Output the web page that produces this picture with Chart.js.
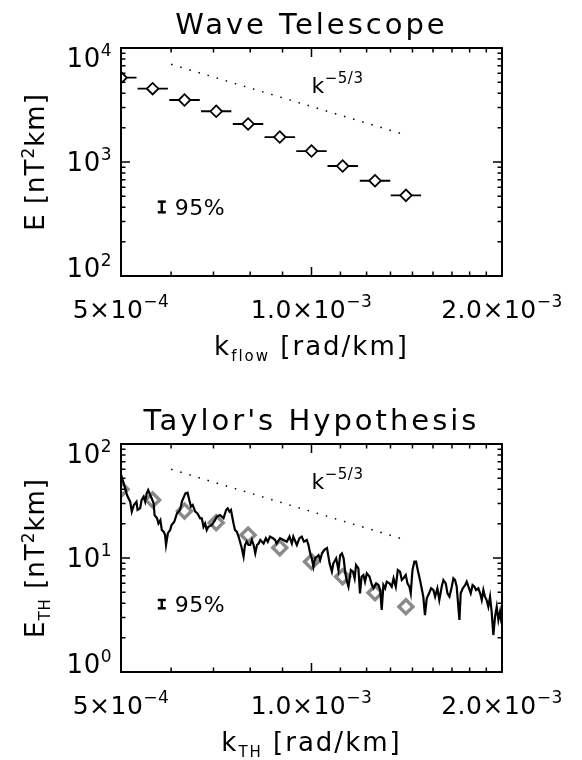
<!DOCTYPE html>
<html><head><meta charset="utf-8">
<script src="https://cdn.jsdelivr.net/npm/chart.js@4/dist/chart.umd.min.js"></script>
<style>
html,body{margin:0;padding:0;background:#fff;}
#wrap{position:relative;width:582px;height:760px;overflow:hidden;}
canvas{position:absolute;left:0;}
</style></head><body>
<div id="wrap">
<canvas id="c1" width="582" height="380" style="top:0"></canvas>
<canvas id="c2" width="582" height="380" style="top:380px"></canvas>
</div>
<script>
// ---------------- data ----------------
// Wave telescope spectrum (bins in k_flow, rad/km)
const kBins    = [5.00e-4, 5.61e-4, 6.30e-4, 7.07e-4, 7.94e-4, 8.91e-4, 1.00e-3, 1.12e-3, 1.26e-3, 1.41e-3];
const kBinLow  = [4.73e-4, 5.31e-4, 5.96e-4, 6.69e-4, 7.51e-4, 8.43e-4, 9.46e-4, 1.060e-3, 1.192e-3, 1.334e-3];
const kBinHigh = [5.29e-4, 5.93e-4, 6.66e-4, 7.47e-4, 8.39e-4, 9.42e-4, 1.057e-3, 1.184e-3, 1.332e-3, 1.490e-3];
const energyWT = [5490, 4395, 3499, 2786, 2155, 1656, 1248, 922, 685, 510];
// same bins, values shown in the Taylor's-hypothesis panel (grey diamonds)
const energyWTinTH = [40.1, 32.3, 25.8, 20.4, 15.9, 12.3, 9.28, 6.85, 4.96, 3.74];
// Taylor's hypothesis spectrum (k_TH, rad/km)
const kTH = [5.00e-4,5.06e-4,5.11e-4,5.17e-4,5.20e-4,5.24e-4,5.29e-4,5.31e-4,5.36e-4,5.39e-4,
5.43e-4,5.46e-4,5.49e-4,5.52e-4,5.56e-4,5.59e-4,5.63e-4,5.65e-4,5.70e-4,5.73e-4,
5.77e-4,5.80e-4,5.84e-4,5.87e-4,5.89e-4,5.93e-4,5.98e-4,6.01e-4,6.07e-4,6.13e-4,
6.20e-4,6.24e-4,6.32e-4,6.37e-4,6.41e-4,6.45e-4,6.49e-4,6.55e-4,6.60e-4,6.67e-4,
6.71e-4,6.75e-4,6.79e-4,6.83e-4,6.87e-4,6.96e-4,7.04e-4,7.08e-4,7.17e-4,7.26e-4,
7.33e-4,7.37e-4,7.42e-4,7.46e-4,7.53e-4,7.57e-4,7.62e-4,7.67e-4,7.71e-4,7.76e-4,
7.81e-4,7.85e-4,7.90e-4,7.95e-4,8.00e-4,8.05e-4,8.10e-4,8.15e-4,8.20e-4,8.25e-4,
8.30e-4,8.40e-4,8.47e-4,8.53e-4,8.60e-4,8.69e-4,8.76e-4,8.81e-4,8.92e-4,9.03e-4,
9.14e-4,9.23e-4,9.31e-4,9.36e-4,9.48e-4,9.57e-4,9.65e-4,9.73e-4,9.83e-4,9.89e-4,
9.95e-4,1.001e-3,1.007e-3,1.013e-3,1.026e-3,1.032e-3,1.039e-3,1.048e-3,1.058e-3,1.068e-3,
1.077e-3,1.083e-3,1.094e-3,1.103e-3,1.110e-3,1.117e-3,1.124e-3,1.131e-3,1.138e-3,1.144e-3,
1.154e-3,1.163e-3,1.170e-3,1.176e-3,1.186e-3,1.193e-3,1.200e-3,1.208e-3,1.215e-3,1.223e-3,
1.235e-3,1.246e-3,1.253e-3,1.265e-3,1.276e-3,1.284e-3,1.291e-3,1.299e-3,1.307e-3,1.315e-3,
1.328e-3,1.339e-3,1.348e-3,1.359e-3,1.369e-3,1.380e-3,1.389e-3,1.397e-3,1.409e-3,1.418e-3,
1.428e-3,1.435e-3,1.444e-3,1.454e-3,1.463e-3,1.472e-3,1.484e-3,1.493e-3,1.502e-3,1.511e-3,
1.521e-3,1.534e-3,1.545e-3,1.558e-3,1.568e-3,1.581e-3,1.592e-3,1.606e-3,1.616e-3,1.630e-3,
1.640e-3,1.652e-3,1.666e-3,1.676e-3,1.686e-3,1.696e-3,1.713e-3,1.721e-3,1.734e-3,1.749e-3,
1.759e-3,1.770e-3,1.785e-3,1.797e-3,1.809e-3,1.820e-3,1.835e-3,1.847e-3,1.858e-3,1.869e-3,
1.880e-3,1.891e-3,1.903e-3,1.915e-3,1.926e-3,1.938e-3,1.950e-3,1.962e-3,1.974e-3,1.986e-3,
1.997e-3];
const energyTH = [54,43.7,35.7,31.2,25.5,29.2,31.2,26.4,27.3,32.3,
34.5,31.2,36.9,39.5,35.7,33.4,30.2,23.8,22.3,20.1,
21.5,17.6,17.0,15.9,13.0,16.5,17.6,19.5,20.8,24.7,
26.4,31.2,36.9,37.4,32.3,28.2,29.2,25.5,24.7,22.3,
22.3,18.8,20.1,17.6,18.8,19.5,21.5,23.0,23.8,22.3,
26.4,27.3,25.5,26.4,20.1,17.6,17.0,15.4,13.9,12.2,
10.3,13.0,13.9,13.0,13.0,14.4,13.0,11.0,13.0,13.4,
14.4,13.4,14.9,13.9,15.4,14.9,14.4,13.4,14.9,14.4,
13.9,15.4,13.4,15.4,13.0,14.9,15.4,13.9,14.4,13.0,
11.0,9.93,8.39,9.93,10.6,9.60,11.0,11.8,12.2,8.98,
7.59,8.98,9.93,7.85,10.6,11.0,9.93,7.34,6.20,5.60,
7.85,7.59,6.63,8.68,8.11,4.90,6.86,7.09,6.20,7.34,
6.86,5.79,5.42,5.99,5.79,5.24,3.50,5.79,5.42,6.20,
5.99,5.60,6.63,5.60,7.85,7.59,6.41,6.63,7.09,5.99,
5.60,4.90,7.85,9.28,9.28,7.85,6.41,5.42,4.58,3.16,
4.43,4.90,5.42,5.24,4.58,5.42,4.28,5.60,6.41,5.99,
4.90,4.58,5.60,6.63,6.41,5.60,2.86,4.90,5.42,5.79,
6.20,5.60,4.90,5.79,5.60,5.24,5.42,4.90,4.28,5.24,
4.58,4.28,3.74,4.58,3.38,2.11,3.06,3.74,2.86,3.38,
2.67];
// k^-5/3 reference line end points
const refK  = [6.0e-4, 1.38e-3];
const refWT = [7200, 1790];
const refTH = [60, 14.9];
// 95% confidence bar
const confK  = 5.8e-4;
const confWT = [362, 449];
const confTH = [3.62, 4.28];
// axis ticks and labels
const xMajorTicks  = [5e-4, 1e-3, 2e-3];
const xMajorLabels = [["5×10","−4"], ["1.0×10","−3"], ["2.0×10","−3"]];
const xMinorTicks  = [6e-4,7e-4,8e-4,9e-4,1.111e-3,1.222e-3,1.333e-3,1.444e-3,1.556e-3,1.667e-3,1.778e-3,1.889e-3];
const yMajorWT  = [1e2, 1e3, 1e4];
const yLabelsWT = [["10","2"],["10","3"],["10","4"]];
const yMinorWT  = [200,300,400,500,600,700,800,900,2000,3000,4000,5000,6000,7000,8000,9000];
const yMajorTH  = [1e0, 1e1, 1e2];
const yLabelsTH = [["10","0"],["10","1"],["10","2"]];
const yMinorTH  = [2,3,4,5,6,7,8,9,20,30,40,50,60,70,80,90];

// ---------------- drawing helpers ----------------
const FONT = '"DejaVu Sans", "Liberation Sans", sans-serif';
function rich(ctx, x, y, parts, align, ls) {
  ctx.letterSpacing = (ls || 0) + 'px';
  let w = 0;
  for (const p of parts) { ctx.font = p[1] + 'px ' + FONT; w += ctx.measureText(p[0]).width; }
  let cx = align === 'center' ? x - w / 2 : align === 'right' ? x - w : x;
  ctx.textAlign = 'left'; ctx.textBaseline = 'alphabetic';
  for (const p of parts) {
    ctx.font = p[1] + 'px ' + FONT;
    ctx.fillText(p[0], cx, y + (p[2] || 0));
    cx += ctx.measureText(p[0]).width;
  }
  ctx.letterSpacing = '0px';
}

const panelCfg = {
  c1: { title: 'Wave Telescope', yMajor: yMajorWT, yLabels: yLabelsWT, yMinor: yMinorWT,
        xTitle: [["k",26],["flow",15,6],[" [rad/km]",26]],
        yTitle: [["E [nT",26],["2",17,-10],["km]",26]],
        refLabel: [1.0e-3, 4000], conf: [confK, confWT] },
  c2: { title: "Taylor's Hypothesis", yMajor: yMajorTH, yLabels: yLabelsTH, yMinor: yMinorTH,
        xTitle: [["k",26],["TH",15,6],[" [rad/km]",26]],
        yTitle: [["E",26],["TH",15,6],[" [nT",26],["2",17,-10],["km]",26]],
        refLabel: [1.0e-3, 40], conf: [confK, confTH] }
};

const idlPlugin = {
  id: 'idlFrame',
  afterDraw(chart) {
    const cfg = panelCfg[chart.canvas.id];
    const ctx = chart.ctx, a = chart.chartArea, xs = chart.scales.x, ys = chart.scales.y;
    ctx.save();
    ctx.fillStyle = '#000'; ctx.strokeStyle = '#000';
    // ticks (inward, all four sides)
    ctx.lineWidth = 1.5;
    ctx.beginPath();
    const xt = (v, L) => { const p = xs.getPixelForValue(v);
      ctx.moveTo(p, a.bottom); ctx.lineTo(p, a.bottom - L); ctx.moveTo(p, a.top); ctx.lineTo(p, a.top + L); };
    const yt = (v, L) => { const p = ys.getPixelForValue(v);
      ctx.moveTo(a.left, p); ctx.lineTo(a.left + L, p); ctx.moveTo(a.right, p); ctx.lineTo(a.right - L, p); };
    xMajorTicks.forEach(v => xt(v, 9)); xMinorTicks.forEach(v => xt(v, 4.5));
    cfg.yMajor.forEach(v => yt(v, 9)); cfg.yMinor.forEach(v => yt(v, 4.5));
    ctx.stroke();
    // frame
    ctx.lineWidth = 2;
    ctx.strokeRect(a.left, a.top, a.right - a.left, a.bottom - a.top);
    // x tick labels
    xMajorTicks.forEach((v, i) => {
      const p = xs.getPixelForValue(v);
      rich(ctx, p, a.bottom + 42, [[xMajorLabels[i][0], 25], [xMajorLabels[i][1], 17, -11]], 'center', 0.5);
    });
    // y tick labels
    cfg.yMajor.forEach((v, i) => {
      const p = ys.getPixelForValue(v);
      let base = p + 9;
      if (i === cfg.yMajor.length - 1) base = a.top + 19;
      if (i === 0) base = a.bottom + 1;
      rich(ctx, a.left - 9, base, [[cfg.yLabels[i][0], 26], [cfg.yLabels[i][1], 17, -11]], 'right', 0.5);
    });
    // title
    rich(ctx, (a.left + a.right) / 2, a.top - 14, [[cfg.title, 29]], 'center', 3);
    // axis titles
    rich(ctx, (a.left + a.right) / 2, a.bottom + 79, cfg.xTitle, 'center', 2);
    ctx.save();
    ctx.translate(44, (a.top + a.bottom) / 2);
    ctx.rotate(-Math.PI / 2);
    rich(ctx, 0, 0, cfg.yTitle, 'center', 1);
    ctx.restore();
    // k^-5/3 label
    rich(ctx, xs.getPixelForValue(cfg.refLabel[0]), ys.getPixelForValue(cfg.refLabel[1]),
         [["k", 22], ["−5/3", 15, -10]], 'left', 0.5);
    // 95% label
    const cy = (ys.getPixelForValue(cfg.conf[1][0]) + ys.getPixelForValue(cfg.conf[1][1])) / 2;
    rich(ctx, xs.getPixelForValue(cfg.conf[0]) + 13, cy + 8, [["95%", 22]], 'left', 0.5);
    ctx.restore();
  }
};

function baseOptions(padTop, xAxisHeight) {
  return {
    responsive: false, animation: false, devicePixelRatio: 1,
    layout: { padding: { left: 0, right: 80, top: padTop, bottom: 0 }, autoPadding: false },
    plugins: { legend: { display: false }, tooltip: { enabled: false }, title: { display: false } },
    scales: {
      x: { type: 'logarithmic', min: 5e-4, max: 2e-3,
           ticks: { display: false }, grid: { display: false }, border: { display: false },
           afterFit: s => { s.height = xAxisHeight; } },
      y: { type: 'logarithmic',
           ticks: { display: false }, grid: { display: false }, border: { display: false },
           afterFit: s => { s.width = 121; } }
    }
  };
}

function pts(xs, ys) { return xs.map((x, i) => ({ x: x, y: ys[i] })); }
function errorBarPoints(lo, hi, y) {
  const out = [];
  lo.forEach((l, i) => { out.push({ x: l, y: y[i] }, { x: hi[i], y: y[i] }, { x: hi[i], y: null }); });
  return out;
}
const lineDefaults = { showLine: true, pointRadius: 0, fill: false, tension: 0, clip: 0 };

// ---------------- top panel ----------------
const opt1 = baseOptions(48, 104);
opt1.scales.y.min = 1e2; opt1.scales.y.max = 1e4;
new Chart(document.getElementById('c1'), {
  type: 'scatter',
  data: { datasets: [
    Object.assign({ data: pts(kBins, energyWT), showLine: false, pointStyle: 'rectRot', pointRadius: 5.8,
      pointBackgroundColor: '#ffffff', pointBorderColor: '#000000', pointBorderWidth: 1.8, clip: 0 }),
    Object.assign({}, lineDefaults, { data: errorBarPoints(kBinLow, kBinHigh, energyWT), spanGaps: false,
      borderColor: '#000000', borderWidth: 1.8 }),
    Object.assign({}, lineDefaults, { data: pts(refK, refWT), borderColor: '#000000', borderWidth: 1.5, borderDash: [1.5, 8] }),
    Object.assign({}, lineDefaults, { data: pts([confK, confK], confWT), borderColor: '#000000', borderWidth: 2.5,
      pointStyle: 'line', pointRadius: 4, pointBorderWidth: 2.5, pointBorderColor: '#000000' })
  ]},
  options: opt1,
  plugins: [idlPlugin]
});

// ---------------- bottom panel ----------------
const opt2 = baseOptions(64, 88);
opt2.scales.y.min = 1e0; opt2.scales.y.max = 1e2;
new Chart(document.getElementById('c2'), {
  type: 'scatter',
  data: { datasets: [
    Object.assign({}, lineDefaults, { data: pts(kTH, energyTH), borderColor: '#000000', borderWidth: 2.2 }),
    Object.assign({ data: pts(kBins, energyWTinTH), showLine: false, pointStyle: 'rectRot', pointRadius: 7,
      pointBackgroundColor: 'rgba(0,0,0,0)', pointBorderColor: '#8a8a8a', pointBorderWidth: 3.4, clip: 0 }),
    Object.assign({}, lineDefaults, { data: pts(refK, refTH), borderColor: '#000000', borderWidth: 1.5, borderDash: [1.5, 8] }),
    Object.assign({}, lineDefaults, { data: pts([confK, confK], confTH), borderColor: '#000000', borderWidth: 2.5,
      pointStyle: 'line', pointRadius: 4, pointBorderWidth: 2.5, pointBorderColor: '#000000' })
  ]},
  options: opt2,
  plugins: [idlPlugin]
});
</script>
</body></html>
